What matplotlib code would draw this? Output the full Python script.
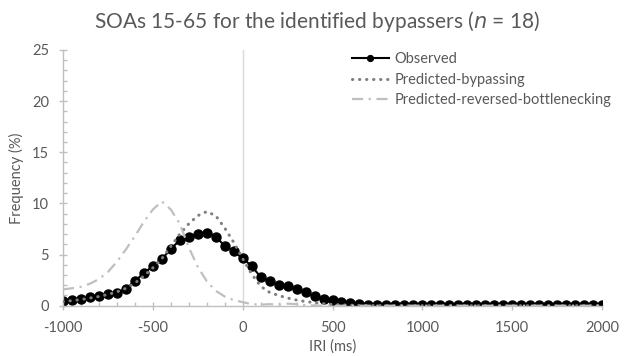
import numpy as np
import matplotlib.pyplot as plt
from matplotlib.ticker import MultipleLocator

plt.rcParams['font.family'] = ['Lato', 'DejaVu Sans']
plt.rcParams['axes.unicode_minus'] = False

# IRI bins (ms), 50 ms steps from -1000 to 2000
iri = np.arange(-1000, 2001, 50)

observed = [0.45, 0.6, 0.63, 0.88, 0.9, 1.14, 1.27, 1.6, 2.44, 3.16,
            3.88, 4.55, 5.55, 6.4, 6.75, 7.0, 7.15, 6.75, 5.85, 5.3,
            4.63, 3.88, 2.8, 2.4, 2.05, 1.88, 1.63, 1.31, 0.92, 0.69,
            0.52, 0.36, 0.22, 0.12, 0.1, 0.1, 0.08, 0.08, 0.06, 0.08,
            0.06, 0.08, 0.06, 0.08, 0.06, 0.08, 0.06, 0.06, 0.06, 0.08,
            0.06, 0.06, 0.06, 0.06, 0.06, 0.06, 0.06, 0.06, 0.06, 0.06, 0.06]

pred_bypass = [0.4, 0.5, 0.6, 0.75, 0.9, 1.1, 1.35, 1.7, 2.2, 2.9,
               3.7, 4.6, 5.8, 7.0, 8.0, 8.8, 9.2, 8.8, 7.6, 6.2,
               4.6, 3.1, 1.9, 1.3, 1.0, 0.75, 0.55, 0.4, 0.3, 0.2,
               0.12, 0.08, 0.05, 0.03, 0.02, 0.01, 0.01, 0.0, 0.0, 0.0,
               0.0, 0.0, 0.0, 0.0, 0.0, 0.0, 0.0, 0.0, 0.0, 0.0,
               0.0, 0.0, 0.0, 0.0, 0.0, 0.0, 0.0, 0.0, 0.0, 0.0, 0.0]

pred_reversed = [1.6, 1.7, 1.85, 2.15, 2.6, 3.3, 4.3, 5.5, 6.8, 8.2,
                 9.4, 10.2, 9.4, 8.0, 5.7, 3.8, 2.4, 1.45, 0.9, 0.55,
                 0.35, 0.15, 0.1, 0.15, 0.1, 0.2, 0.15, 0.05, 0.02, 0.0,
                 0.0, 0.0, 0.0, 0.0, 0.0, 0.0, 0.0, 0.0, 0.0, 0.0,
                 0.0, 0.0, 0.0, 0.0, 0.0, 0.0, 0.0, 0.0, 0.0, 0.0,
                 0.0, 0.0, 0.0, 0.0, 0.0, 0.0, 0.0, 0.0, 0.0, 0.0, 0.0]

text_col = '#595959'
axis_col = '#bfbfbf'

fig = plt.figure(figsize=(6.3, 3.56), dpi=100)
ax = fig.add_axes([0.1, 0.1413, 0.8556, 0.7183])

ax.axvline(0, color='#d9d9d9', lw=1, zorder=1)

ax.plot(iri, observed, color='black', lw=1.5, marker='o', ms=6.5,
        label='Observed', zorder=2)
ax.plot(iri, pred_bypass, color='#7f7f7f', lw=2.2, ls=(0, (0.1, 2.2)),
        dash_capstyle='round', label='Predicted-bypassing', zorder=3)
ax.plot(iri, pred_reversed, color='#bfbfbf', lw=1.6, ls=(0, (5, 2.5, 1, 2.5)),
        label='Predicted-reversed-bottlenecking', zorder=4)

ax.set_xlim(-1000, 2000)
ax.set_ylim(0, 25)
ax.xaxis.set_major_locator(MultipleLocator(500))
ax.xaxis.set_minor_locator(MultipleLocator(100))
ax.yaxis.set_major_locator(MultipleLocator(5))
ax.yaxis.set_minor_locator(MultipleLocator(1))

for s in ['top', 'right']:
    ax.spines[s].set_visible(False)
for s in ['left', 'bottom']:
    ax.spines[s].set_color(axis_col)
    ax.spines[s].set_linewidth(1)

ax.tick_params(which='major', direction='inout', length=6, width=1,
               color=axis_col, labelcolor=text_col, labelsize=10.5)
ax.tick_params(which='minor', direction='in', length=3, width=1, color=axis_col)
ax.tick_params(axis='x', which='major', pad=8)
ax.tick_params(axis='y', which='major', pad=7)

ax.set_xlabel('IRI (ms)', color=text_col, fontsize=10.5, labelpad=3)
ax.set_ylabel('Frequency (%)', color=text_col, fontsize=10.5, labelpad=6)

fig.suptitle('SOAs 15-65 for the identified bypassers ($\\it{n}$ = 18)',
             x=0.503, y=0.975, color=text_col, fontsize=15)

leg = ax.legend(loc='upper left', bbox_to_anchor=(0.512, 1.043), frameon=False,
                fontsize=10.5, handlelength=2.5, labelspacing=0.45,
                handletextpad=0.4, markerscale=0.65)
for t in leg.get_texts():
    t.set_color(text_col)

fig.savefig('out.png', dpi=100)
